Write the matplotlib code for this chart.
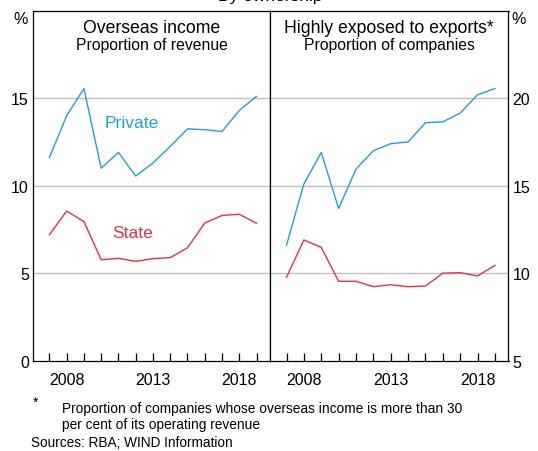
import matplotlib

matplotlib.use("Agg")
import matplotlib.pyplot as plt

plt.rcParams["font.family"] = ["Liberation Sans", "DejaVu Sans"]

YEARS = list(range(2007, 2020))

# Overseas income, proportion of revenue (%)
INCOME_PRIVATE = [11.6, 14.0, 15.55, 11.0, 11.9, 10.55, 11.3, 12.25, 13.25, 13.2, 13.1, 14.3, 15.1]
INCOME_STATE = [7.2, 8.55, 7.95, 5.77, 5.85, 5.68, 5.83, 5.89, 6.45, 7.87, 8.3, 8.37, 7.85]

# Highly exposed to exports, proportion of companies (%)
EXPORT_PRIVATE = [11.6, 15.1, 16.9, 13.7, 15.95, 17.0, 17.4, 17.5, 18.6, 18.65, 19.15, 20.2, 20.55]
EXPORT_STATE = [9.77, 11.9, 11.48, 9.54, 9.54, 9.23, 9.34, 9.23, 9.27, 10.0, 10.03, 9.84, 10.45]

YEAR_LABELS = [2008, 2013, 2018]
LEFT_TICKS = [0, 5, 10, 15]
RIGHT_TICKS = [5, 10, 15, 20]

BLUE = "#1ea0dc"
RED = "#ee2d45"
GRID = "#c0c0c0"

W, H = 538, 452


def setup_panel(ax, ylim, ticks):
    ax.set_xlim(2006.05, 2019.78)
    ax.set_ylim(*ylim)
    for t in ticks[1:]:
        ax.axhline(t, color=GRID, lw=1.0, zorder=0)
    ax.set_xticks(YEARS)
    ax.set_xticklabels([str(y) if y in YEAR_LABELS else "" for y in YEARS])
    ax.tick_params(axis="x", direction="in", length=6, width=0.9, pad=8, labelsize=11.5)
    ax.set_yticks(ticks)
    ax.tick_params(axis="y", length=0, labelsize=11.5, pad=3)
    for s in ax.spines.values():
        s.set_linewidth(0.9)


fig = plt.figure(figsize=(W / 100, H / 100), dpi=100)
bottom = 1 - 361.7 / H
height = (361.7 - 11.7) / H
ax1 = fig.add_axes([33 / W, bottom, (270 - 33) / W, height])
ax2 = fig.add_axes([270 / W, bottom, (508.5 - 270) / W, height])

setup_panel(ax1, (0, 20), LEFT_TICKS)
setup_panel(ax2, (5, 25), RIGHT_TICKS)
ax2.yaxis.tick_right()

ax1.plot(YEARS, INCOME_PRIVATE, color=BLUE, lw=1.0)
ax1.plot(YEARS, INCOME_STATE, color=RED, lw=1.0)
ax2.plot(YEARS, EXPORT_PRIVATE, color=BLUE, lw=1.0)
ax2.plot(YEARS, EXPORT_STATE, color=RED, lw=1.0)

ax1.text(2011.8, 13.6, "Private", color=BLUE, fontsize=12.6, ha="center", va="center")
ax1.text(2011.8, 7.35, "State", color=RED, fontsize=12.6, ha="center", va="center")

ax1.text(0.5, 0.952, "Overseas income", transform=ax1.transAxes, ha="center", va="center", fontsize=12.7)
ax1.text(0.5, 0.903, "Proportion of revenue", transform=ax1.transAxes, ha="center", va="center", fontsize=11.3)
ax2.text(0.5, 0.952, "Highly exposed to exports*", transform=ax2.transAxes, ha="center", va="center", fontsize=12.7)
ax2.text(0.5, 0.903, "Proportion of companies", transform=ax2.transAxes, ha="center", va="center", fontsize=11.3)

fig.text(21 / W, 1 - 19 / H, "%", ha="center", va="center", fontsize=11.5)
fig.text(519 / W, 1 - 19 / H, "%", ha="center", va="center", fontsize=11.5)
fig.text(270 / W, 1 - (-3) / H, "By ownership", ha="center", va="center", fontsize=12.5)

fig.text(36 / W, 1 - 403 / H, "*", ha="center", va="center", fontsize=10)
fig.text(62 / W, 1 - 409 / H, "Proportion of companies whose overseas income is more than 30",
         ha="left", va="center", fontsize=9.9)
fig.text(62 / W, 1 - 425 / H, "per cent of its operating revenue", ha="left", va="center", fontsize=9.9)
fig.text(31 / W, 1 - 443 / H, "Sources: RBA; WIND Information", ha="left", va="center", fontsize=9.8)

fig.savefig("out.png", dpi=100)
